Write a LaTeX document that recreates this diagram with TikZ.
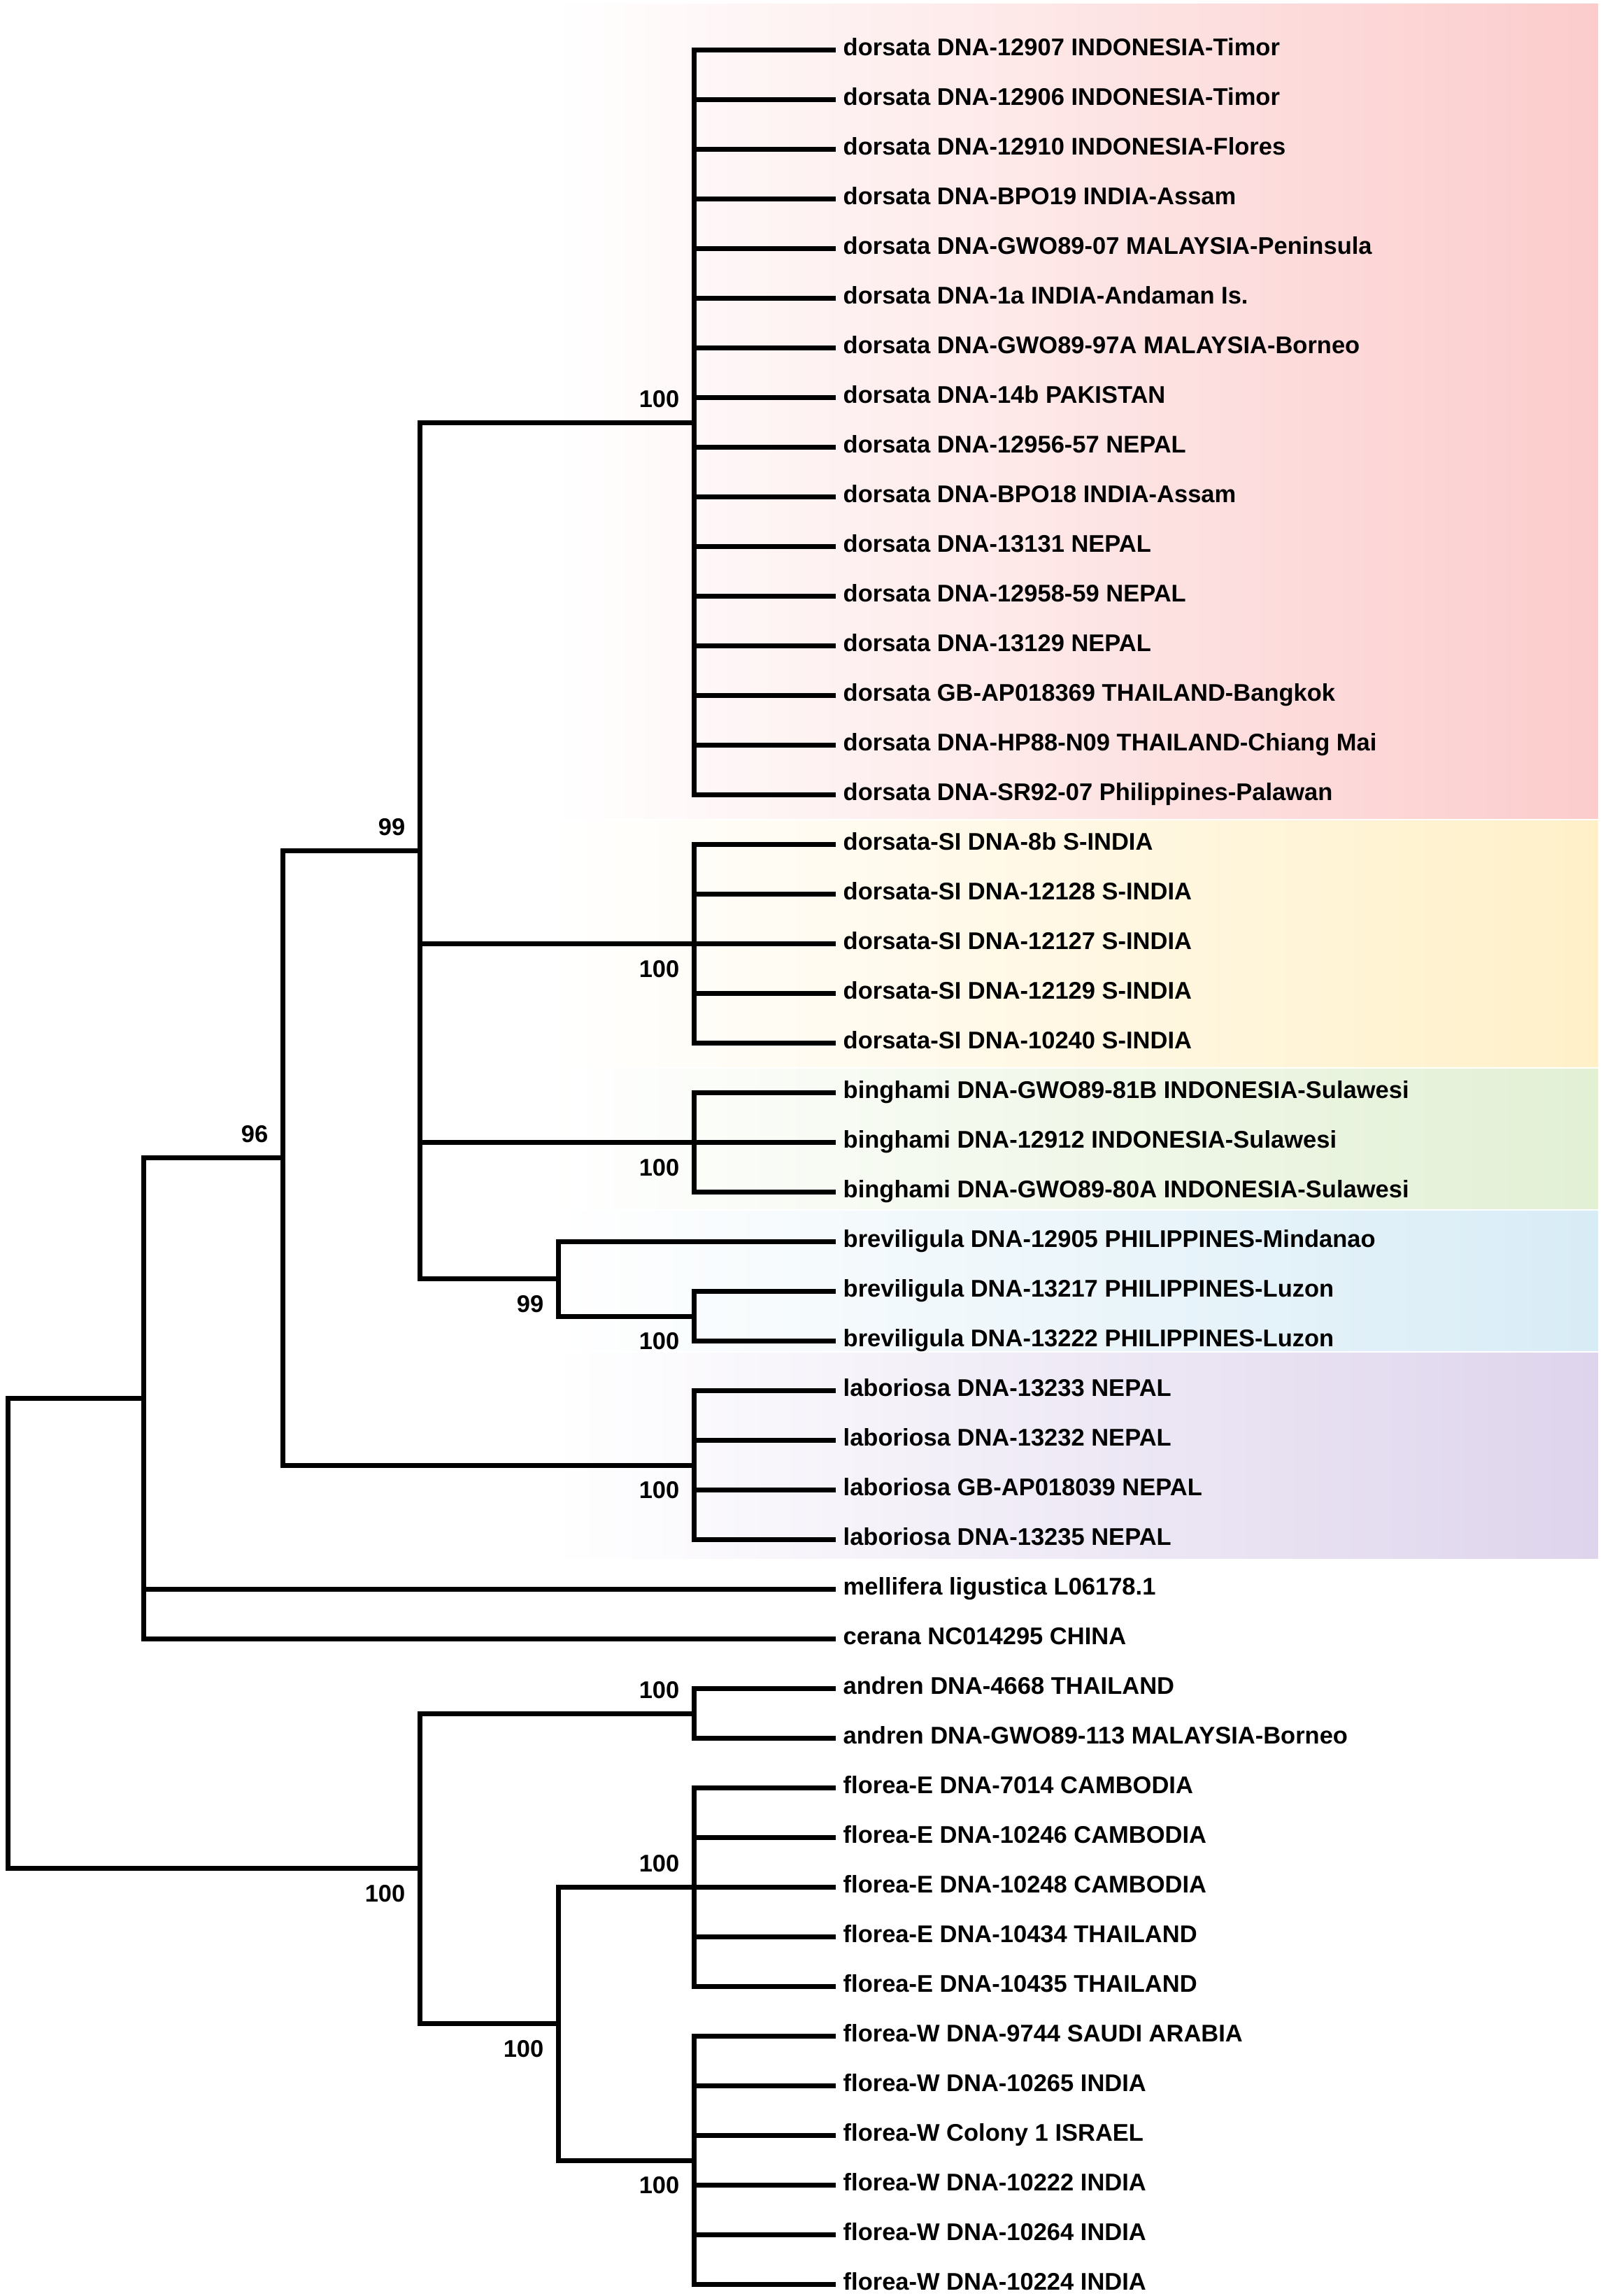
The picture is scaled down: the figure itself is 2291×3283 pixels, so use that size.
\documentclass[tikz,border=0pt]{standalone}
\usepackage{fontspec}
\setmainfont{Liberation Sans}

\definecolor{roze}{RGB}{252,204,204}
\definecolor{geel}{RGB}{255,240,200}
\definecolor{groen}{RGB}{226,240,212}
\definecolor{blauw}{RGB}{216,236,246}
\definecolor{paars}{RGB}{222,212,236}

\newcommand{\labfont}{\fontsize{10.35pt}{12pt}\selectfont\bfseries}

\tikzset{
  tak/.style={line width=2.1pt, line join=miter},
  blad/.style={anchor=west, inner sep=3pt, text height=7.45pt, text depth=2.59pt, font=\labfont},
  bsboven/.style={anchor=south east, inner sep=0pt, xshift=-6pt, yshift=6.3pt, font=\labfont},
  bsonder/.style={anchor=north east, inner sep=0pt, xshift=-6pt, yshift=-6.9pt, font=\labfont},
  band/.style={left color=white, middle color=#1!40!white, right color=#1}
}

\begin{document}
\begin{tikzpicture}[x=0.3pt, y=-0.3pt]
        \useasboundingbox (0,0) rectangle (2291,3283);
        % achtergrond
        \shade[band=roze] (790,5) rectangle (2285,1170);
        \shade[band=geel] (790,1173) rectangle (2285,1525);
        \shade[band=groen] (790,1528) rectangle (2285,1728);
        \shade[band=blauw] (790,1731) rectangle (2285,1931);
        \shade[band=paars] (790,1934) rectangle (2285,2228);
        % bladeren
        \foreach \t [count=\i from 0] in {
          dorsata DNA-12907 INDONESIA-Timor, dorsata DNA-12906 INDONESIA-Timor,
          dorsata DNA-12910 INDONESIA-Flores, dorsata DNA-BPO19 INDIA-Assam,
          dorsata DNA-GWO89-07 MALAYSIA-Peninsula, dorsata DNA-1a INDIA-Andaman Is.,
          dorsata DNA-GWO89-97A MALAYSIA-Borneo, dorsata DNA-14b PAKISTAN,
          dorsata DNA-12956-57 NEPAL, dorsata DNA-BPO18 INDIA-Assam,
          dorsata DNA-13131 NEPAL, dorsata DNA-12958-59 NEPAL,
          dorsata DNA-13129 NEPAL, dorsata GB-AP018369 THAILAND-Bangkok,
          dorsata DNA-HP88-N09 THAILAND-Chiang Mai, dorsata DNA-SR92-07 Philippines-Palawan,
          dorsata-SI DNA-8b S-INDIA, dorsata-SI DNA-12128 S-INDIA,
          dorsata-SI DNA-12127 S-INDIA, dorsata-SI DNA-12129 S-INDIA,
          dorsata-SI DNA-10240 S-INDIA,
          binghami DNA-GWO89-81B INDONESIA-Sulawesi, binghami DNA-12912 INDONESIA-Sulawesi,
          binghami DNA-GWO89-80A INDONESIA-Sulawesi,
          breviligula DNA-12905 PHILIPPINES-Mindanao, breviligula DNA-13217 PHILIPPINES-Luzon,
          breviligula DNA-13222 PHILIPPINES-Luzon,
          laboriosa DNA-13233 NEPAL, laboriosa DNA-13232 NEPAL,
          laboriosa GB-AP018039 NEPAL, laboriosa DNA-13235 NEPAL,
          mellifera ligustica L06178.1, cerana NC014295 CHINA,
          andren DNA-4668 THAILAND, andren DNA-GWO89-113 MALAYSIA-Borneo,
          florea-E DNA-7014 CAMBODIA, florea-E DNA-10246 CAMBODIA,
          florea-E DNA-10248 CAMBODIA, florea-E DNA-10434 THAILAND,
          florea-E DNA-10435 THAILAND,
          florea-W DNA-9744 SAUDI ARABIA, florea-W DNA-10265 INDIA,
          florea-W Colony 1 ISRAEL, florea-W DNA-10222 INDIA,
          florea-W DNA-10264 INDIA, florea-W DNA-10224 INDIA}
          \node[blad] (l\i) at (1195,{71.5+71*\i}) {\t};
        % knopen
        \coordinate (dor) at (992,604);
        \coordinate (si) at (992,1349.5);
        \coordinate (bin) at (992,1633.5);
        \coordinate (brz) at (992,1882);
        \coordinate (bre) at (798,1828.75);
        \coordinate (k99) at (600,1216.4);
        \coordinate (lab) at (992,2095);
        \coordinate (k96) at (404,1655.7);
        \coordinate (k205) at (205,1999.6);
        \coordinate (and) at (992,2450);
        \coordinate (flE) at (992,2698.5);
        \coordinate (flW) at (992,3089);
        \coordinate (flo) at (798,2893.75);
        \coordinate (anf) at (600,2671.9);
        \coordinate (wortel) at (11,2335.75);
        % clades
        \foreach \k/\a/\b in {dor/0/15, si/16/20, bin/21/23, lab/27/30, flE/35/39, flW/40/45} {
          \draw[tak] (l\a.west) -| (\k) |- (l\b.west);
          \pgfmathtruncatemacro\c{\a+1}
          \pgfmathtruncatemacro\d{\b-1}
          \foreach \i in {\c,...,\d} \draw[tak] (\k |- l\i.west) -- (l\i.west);
        }
        \draw[tak] (l25.west) -| (brz) |- (l26.west);
        \draw[tak] (l33.west) -| (and) |- (l34.west);
        \draw[tak] (l24.west) -| (bre) |- (brz);
        \draw[tak] (dor) -| (k99) |- (bre);
        \draw[tak] (k99 |- si) -- (si);
        \draw[tak] (k99 |- bin) -- (bin);
        \draw[tak] (k99) -| (k96) |- (lab);
        \draw[tak] (k96) -| (k205) |- (l32.west);
        \draw[tak] (k205 |- l31.west) -- (l31.west);
        \draw[tak] (flE) -| (flo) |- (flW);
        \draw[tak] (and) -| (anf) |- (flo);
        \draw[tak] (k205) -| (wortel) |- (anf);
        % bootstrap
        \node[bsboven] (b1) at (dor) {100};
        \node[bsboven] (b2) at (k99) {99};
        \node[bsonder] (b3) at (si) {100};
        \node[bsonder] (b4) at (bin) {100};
        \node[bsonder] (b5) at (brz) {100};
        \node[bsonder] (b6) at (bre) {99};
        \node[bsonder] (b7) at (lab) {100};
        \node[bsboven] (b8) at (k96) {96};
        \node[bsboven] (b9) at (and) {100};
        \node[bsboven] (b10) at (flE) {100};
        \node[bsonder] (b11) at (flW) {100};
        \node[bsonder] (b12) at (flo) {100};
        \node[bsonder] (b13) at (anf) {100};
\end{tikzpicture}
\end{document}
